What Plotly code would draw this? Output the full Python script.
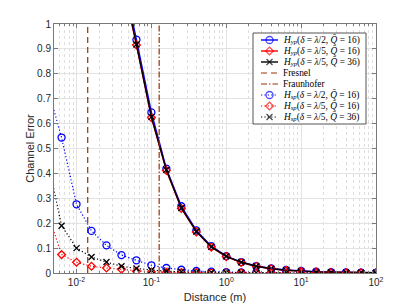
import numpy as np
import plotly.graph_objects as go

# distances (log10 step 0.2), from 10^-2.4 to 10^2
log_d = [-2.4, -2.2, -2.0, -1.8, -1.6, -1.4, -1.2, -1.0, -0.8, -0.6, -0.4, -0.2,
         0.0, 0.2, 0.4, 0.6, 0.8, 1.0, 1.2, 1.4, 1.6, 1.8, 2.0]
dist = [10 ** v for v in log_d]

hp_half_16 = [3.2, 2.6, 2.1, 1.75, 1.5, 1.22, 0.937, 0.645, 0.419, 0.268, 0.171, 0.108,
              0.068, 0.044, 0.028, 0.018, 0.012, 0.008, 0.005, 0.003, 0.002, 0.0013, 0.0008]
hp_fifth_16 = [3.1, 2.5, 2.05, 1.7, 1.45, 1.19, 0.916, 0.624, 0.412, 0.259, 0.165, 0.104,
               0.066, 0.042, 0.027, 0.017, 0.011, 0.007, 0.0045, 0.003, 0.002, 0.0012, 0.0008]
hp_fifth_36 = [3.1, 2.5, 2.05, 1.7, 1.46, 1.2, 0.918, 0.627, 0.414, 0.261, 0.167, 0.105,
               0.067, 0.043, 0.027, 0.017, 0.011, 0.007, 0.0045, 0.003, 0.002, 0.0012, 0.0008]

sp_half_16 = [0.76, 0.544, 0.276, 0.169, 0.111, 0.072, 0.051, 0.031, 0.02, 0.013, 0.008, 0.005,
              0.003, 0.002, 0.0015, 0.001, 0.0008, 0.0006, 0.0005, 0.0004, 0.0003, 0.0003, 0.0002]
sp_fifth_16 = [0.256, 0.074, 0.043, 0.027, 0.02, 0.015, 0.007, 0.004, 0.003, 0.002, 0.0015, 0.001,
               0.0008, 0.0006, 0.0005, 0.0004, 0.0003, 0.0003, 0.0002, 0.0002, 0.0002, 0.0001, 0.0001]
sp_fifth_36 = [0.474, 0.19, 0.10, 0.064, 0.044, 0.027, 0.018, 0.011, 0.007, 0.005, 0.003, 0.002,
               0.0015, 0.001, 0.0008, 0.0006, 0.0005, 0.0004, 0.0003, 0.0003, 0.0002, 0.0002, 0.0001]

fresnel_d = 0.0141
fraunhofer_d = 0.127

x_tickvals = [0.01, 0.1, 1, 10, 100]
x_ticktext = ["10<sup>-2</sup>", "10<sup>-1</sup>", "10<sup>0</sup>", "10<sup>1</sup>", "10<sup>2</sup>"]
y_tickvals = [0, 0.1, 0.2, 0.3, 0.4, 0.5, 0.6, 0.7, 0.8, 0.9, 1]
y_ticktext = ["0", "0.1", "0.2", "0.3", "0.4", "0.5", "0.6", "0.7", "0.8", "0.9", "1"]

def lab(sub, delta, q):
    return (f"<i>H</i><sub><i>{sub}</i></sub>(<i>δ</i> = <i>λ</i>/{delta}, "
            f"<i>Q̄</i> = {q})")

BLUE = "#0000ff"
RED = "#ff0000"
BLACK = "#000000"
BROWN = "#993300"

DASH_FRESNEL = "6px,4px"
DASH_FRAUN = "6px,2px,1.5px,2px"
DASH_DOT = "1.2px,2.2px"

fig = go.Figure()
legend_items = []

def add(y, name, color, symbol, dash, size):
    width = 1.4 if dash == "solid" else 1.2
    fig.add_trace(go.Scatter(
        x=dist, y=y, name=name, mode="lines+markers", showlegend=False,
        line=dict(color=color, width=width, dash=dash),
        marker=dict(symbol=symbol, size=size, color=color,
                    line=dict(color=color, width=1.3)),
    ))
    legend_items.append((name, color, symbol, dash, size, width))

add(hp_half_16, lab("yp", 2, 16), BLUE, "circle-open", "solid", 7)
add(hp_fifth_16, lab("yp", 5, 16), RED, "diamond-open", "solid", 6)
add(hp_fifth_36, lab("yp", 5, 36), BLACK, "x-thin-open", "solid", 6)

fig.add_trace(go.Scatter(x=[fresnel_d, fresnel_d], y=[0, 1], mode="lines", name="Fresnel",
                         showlegend=False, line=dict(color=BROWN, width=1.2, dash=DASH_FRESNEL)))
legend_items.append(("Fresnel", BROWN, None, DASH_FRESNEL, 0, 1.2))
fig.add_trace(go.Scatter(x=[fraunhofer_d, fraunhofer_d], y=[0, 1], mode="lines", name="Fraunhofer",
                         showlegend=False, line=dict(color=BROWN, width=1.2, dash=DASH_FRAUN)))
legend_items.append(("Fraunhofer", BROWN, None, DASH_FRAUN, 0, 1.2))

add(sp_half_16, lab("sp", 2, 16), BLUE, "circle-open", DASH_DOT, 7)
add(sp_fifth_16, lab("sp", 5, 16), RED, "diamond-open", DASH_DOT, 6)
add(sp_fifth_36, lab("sp", 5, 36), BLACK, "x-thin-open", DASH_DOT, 6)

# ---- compact legend drawn on an overlay axis measured in pixels ----
PL, PR, PT, PB = 54, 376, 24, 273
fig.update_layout(
    xaxis2=dict(overlaying="x", range=[PL, PR], visible=False, fixedrange=True),
    yaxis2=dict(overlaying="y", range=[PB, PT], visible=False, fixedrange=True),
)
bx0, bx1, by0, by1 = 253, 366, 33, 124
fig.add_trace(go.Scatter(
    x=[bx0, bx1, bx1, bx0, bx0], y=[by0, by0, by1, by1, by0], xaxis="x2", yaxis="y2",
    mode="lines", fill="toself", fillcolor="white", showlegend=False, hoverinfo="skip",
    line=dict(color="#555555", width=1),
))
row0, row_step = 40, 11.0
for i, (name, color, symbol, dash, size, width) in enumerate(legend_items):
    yc = row0 + i * row_step
    fig.add_trace(go.Scatter(
        x=[261, 269.5, 278], y=[yc, yc, yc], xaxis="x2", yaxis="y2",
        mode="lines+markers" if symbol else "lines", showlegend=False, hoverinfo="skip",
        line=dict(color=color, width=width, dash=dash),
        marker=dict(symbol=symbol or "circle", size=[0, size, 0], color=color,
                    line=dict(color=color, width=1.3)),
    ))
    fig.add_annotation(x=280.5, y=yc, xref="x2", yref="y2", text=name, showarrow=False,
                       xanchor="left", yanchor="middle",
                       font=dict(family="Liberation Serif", size=9.4, color="#000000"))

minor_vals = [m * 10 ** e for e in range(-3, 2) for m in range(2, 10)]
minor_vals = [v for v in minor_vals if 0.005 <= v <= 100]

axis_col = "#7a7a7a"
fig.update_layout(xaxis=dict(
    type="log", range=[np.log10(0.005), 2], automargin=False,
    tickvals=x_tickvals, ticktext=x_ticktext,
    ticks="inside", ticklen=4, tickcolor=axis_col,
    showline=True, linecolor=axis_col, linewidth=1, mirror="ticks",
    showgrid=True, gridcolor="#e3e3e3", gridwidth=1,
    zeroline=False,
    minor=dict(tickvals=minor_vals, ticks="inside", ticklen=2, tickcolor=axis_col,
               showgrid=True, gridcolor="#dddddd", griddash="dot", gridwidth=1),
    tickfont=dict(family="Liberation Sans", size=10, color="#262626"),
    title=dict(text="Distance (m)", font=dict(family="Liberation Sans", size=11, color="#262626"),
               standoff=6),
))
fig.update_layout(yaxis=dict(
    range=[0, 1], automargin=False, tickvals=y_tickvals, ticktext=y_ticktext,
    ticks="inside", ticklen=4, tickcolor=axis_col,
    showline=True, linecolor=axis_col, linewidth=1, mirror="ticks",
    showgrid=True, gridcolor="#e3e3e3", gridwidth=1, zeroline=False,
    tickfont=dict(family="Liberation Sans", size=10, color="#262626"),
    title=dict(text="Channel Error", font=dict(family="Liberation Sans", size=11, color="#262626"),
               standoff=0),
))

fig.update_layout(
    width=415, height=308,
    margin=dict(l=PL, r=415 - PR, t=PT, b=308 - PB),
    plot_bgcolor="white", paper_bgcolor="white",
    showlegend=False,
)

fig.write_html("out.html", config={"displayModeBar": False},
               post_script="document.body.style.margin='0';")
